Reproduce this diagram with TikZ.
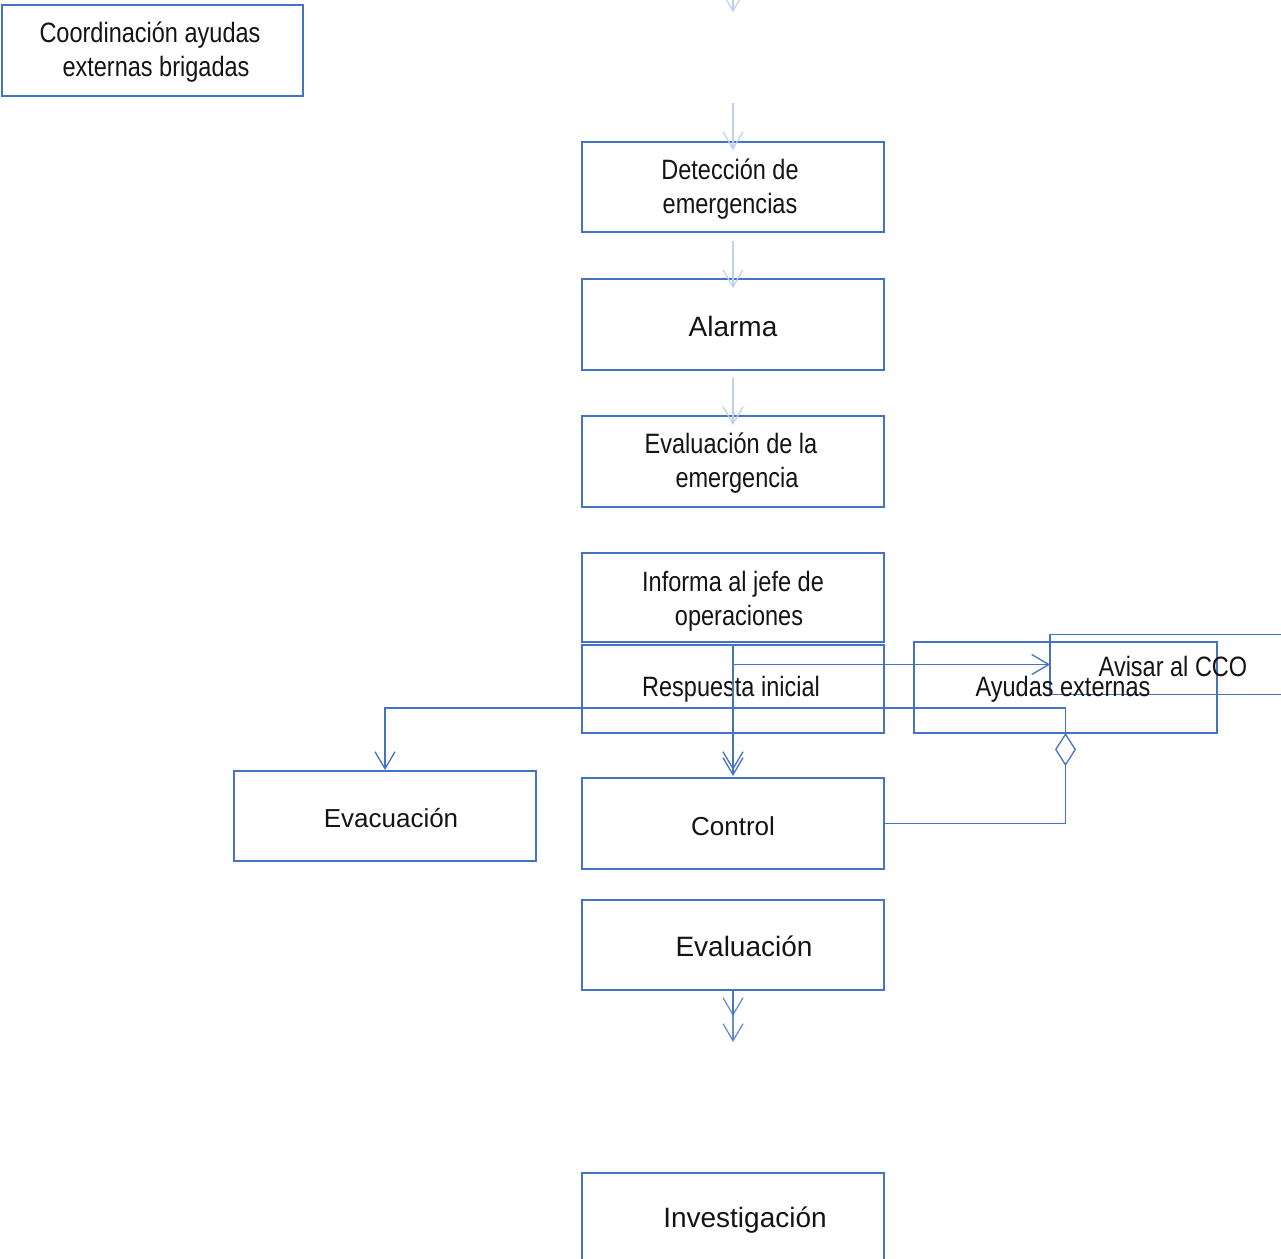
\documentclass[tikz,border=0pt]{standalone}
\usepackage{fontspec}
\setmainfont{Liberation Sans}
\newfontfamily\narrowf[FakeStretch=0.84]{Liberation Sans}
\usetikzlibrary{arrows.meta}
\definecolor{boxblue}{RGB}{68,114,196}
\definecolor{lineblue}{RGB}{68,114,196}
\definecolor{paleblue}{RGB}{190,208,238}
\definecolor{txtcol}{RGB}{20,20,20}
\begin{document}
\begin{tikzpicture}[x=1pt,y=-1pt,
  box/.style={draw=boxblue,line width=1.2pt,minimum width=302pt,minimum height=90pt,inner sep=0pt,outer sep=0pt},
  lbl/.style={text=txtcol,align=center,inner sep=0pt,font=\fontsize{28}{34}\selectfont},
  nlbl/.style={text=txtcol,align=center,inner sep=0pt,font=\narrowf\fontsize{28}{34}\selectfont},
  conn/.style={draw=lineblue,line width=1.3pt},
  pale/.style={draw=paleblue,line width=1.2pt},
  barb/.tip={Straight Barb[length=17pt,width=20pt]},
  dia/.tip={Diamond[open,length=33pt,width=21pt]}
]
\useasboundingbox (0,0) rectangle (1281,1258);
\fill[white] (0,0) rectangle (1281,1258);

% boxes
\node[box,minimum width=301pt,minimum height=91pt] (coord) at (152.5,50.5) {};
\node[box] (det) at (733,187) {};
\node[box,minimum height=91pt] (alarm) at (733,324.5) {};
\node[box,minimum height=91pt] (evem) at (733,461.5) {};
\node[box,minimum height=89pt] (inf) at (733,597.5) {};
\node[box,minimum height=88pt] (resp) at (733,689) {};
\node[box,minimum width=303pt,minimum height=91pt] (ayu) at (1065.5,687.5) {};
\node[box,minimum width=246pt,minimum height=60pt] (avi) at (1173,664.5) {};
\node[box] (evac) at (385,816) {};
\node[box,minimum height=91pt] (ctrl) at (733,823.5) {};
\node[box] (evl) at (733,945) {};
\node[box,minimum height=91pt] (inv) at (733,1218.5) {};

% labels
\node[nlbl] (coordt) at (150,52) {Coordinación ayudas\\\hspace*{12pt}externas brigadas};
\node[nlbl] (dett) at (730,189) {Detección de\\emergencias};
\node[lbl] (alarmt) at (733,326) {Alarma};
\node[nlbl] (evemt) at (731,463) {Evaluación de la\\\hspace*{12pt}emergencia};
\node[nlbl] (inft) at (733,601) {Informa al jefe de\\\hspace*{12pt}operaciones};
\node[nlbl] (respt) at (731,689) {Respuesta inicial};
\node[nlbl] (ayut) at (1063,689) {Ayudas externas};
\node[nlbl] (avit) at (1173,666) {Avisar al CCO};
\node[lbl,font=\fontsize{26}{32}\selectfont] (evact) at (391,818) {Evacuación};
\node[lbl,font=\fontsize{26}{32}\selectfont] (ctrlt) at (733,826) {Control};
\node[lbl] (evlt) at (744,946) {Evaluación};
\node[lbl] (invt) at (745,1220) {Investigación};

% pale arrows
\coordinate (topstart) at (733,-20);
\coordinate (toptip) at (733,12);
\draw[pale,-barb] (topstart) -- (toptip);
\draw[pale,-barb] (733,103) -- ([yshift=-8pt]det.north);
\draw[pale,-barb] ([yshift=-9pt]det.south) -- ([yshift=-9pt]alarm.north);
\draw[pale,-barb] ([yshift=-8pt]alarm.south) -- ([yshift=-9pt]evem.north);

% connectors from Respuesta inicial
\draw[conn,-barb] (resp.north) -- ([yshift=2pt]ctrl.north);
\draw[conn,-barb,shorten >=6pt] (resp.north) -- ([yshift=2pt]ctrl.north);
\draw[conn,-barb] (resp.north |- avi.west) -- (avi.west);

% aggregation from Control to Ayudas externas
\draw[conn,dia-] (ayu.south) -- (ayu.south |- ctrl.east) -- (ctrl.east);
\coordinate (split) at (1065.5,708);
\draw[conn,-barb] (ayu.south) -- (split) -| ([yshift=1pt]evac.north);

% bottom arrows
\coordinate (b1) at (733,1016);
\coordinate (b2) at (733,1042);
\draw[conn,draw opacity=0.8,-barb] (evl.south) -- (b2);
\draw[conn,draw opacity=0.8,-barb] (evl.south) -- (b1);
\end{tikzpicture}
\end{document}
